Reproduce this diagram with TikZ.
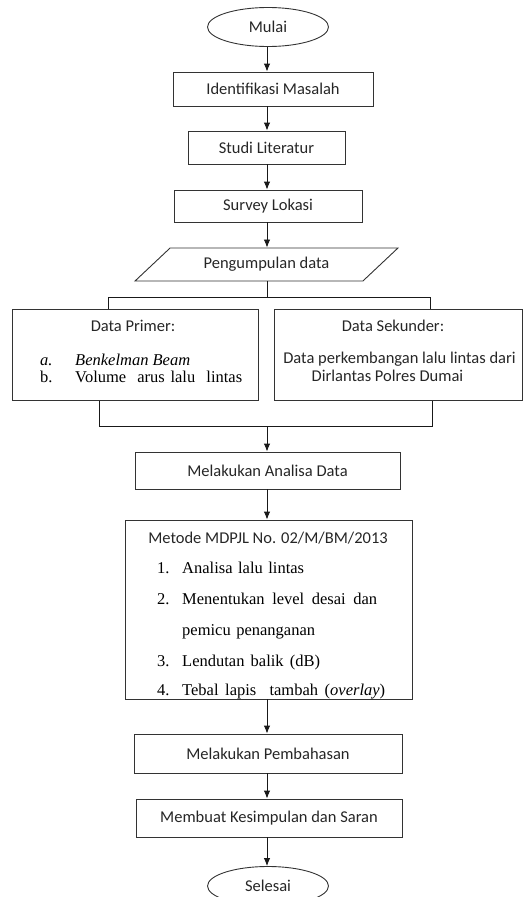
\documentclass[tikz,border=0pt]{standalone}
\usepackage{fontspec}
\setmainfont{Carlito}
\newfontfamily\serif{Liberation Serif}
\usetikzlibrary{arrows.meta}
\usetikzlibrary{shapes.geometric}
\usetikzlibrary{calc}

\tikzset{
	stepbox/.style={draw=black!80,line width=0.9pt,inner sep=0pt},
	termbox/.style={draw=black!80,line width=0.9pt,shape=ellipse,inner sep=0pt,minimum width=121pt,minimum height=39pt},
	txt/.style={text=black!85,inner sep=0pt},
	ser/.style={text=black,inner sep=0pt,anchor=base west,font=\serif\fontsize{16.5}{18}\selectfont},
	link/.style={draw=black!90,line width=0.9pt}
}

\begin{document}
\begin{tikzpicture}[>/.tip={Latex[length=8pt,width=6.5pt]},x=1pt,y=-1pt,font=\fontsize{16.5}{18}\selectfont]
	\useasboundingbox (0,0) rectangle (523,897);
	\coordinate (axis) at (267,0);

	\draw (268,27) node(mulai) [termbox,txt] {Mulai};
	\draw (273,89) node(ident) [stepbox,txt,minimum width=200pt,minimum height=34pt] {Identifikasi Masalah};
	\draw (266.5,147.5) node(studi) [stepbox,txt,minimum width=157pt,minimum height=33pt] {Studi Literatur};
	\draw (268,206) node(survey) [stepbox,txt,minimum width=188pt,minimum height=32pt] {Survey Lokasi};
	\draw (266.5,264.5) node(data) [stepbox,txt,shape=trapezium,trapezium left angle=32,trapezium right angle=148,trapezium stretches=true,minimum width=263pt,minimum height=33pt] {Pengumpulan data};

	\draw (135,355) node(primer) [stepbox,minimum width=246pt,minimum height=91pt] {};
	\node (primertitle) [txt] at (133,326) {Data Primer:};
	\node (pa) [ser] at (40,365) {\itshape a.};
	\node (patext) [ser] at (75,365) {\itshape Benkelman Beam};
	\node (pb) [ser] at (40,382) {b.};
	\node (pbtext) [ser] at (75,382) {\makebox[167pt][s]{Volume\ \ arus lalu\ \ lintas}};

	\draw (398,355) node(sekunder) [stepbox,minimum width=248pt,minimum height=91pt] {};
	\node (sekundertitle) [txt] at (393,326) {Data Sekunder:};
	\node (sekunderone) [txt] at (399.5,359) {Data perkembangan lalu lintas dari};
	\node (sekundertwo) [txt] at (387.5,376) {Dirlantas Polres Dumai};

	\draw (267.5,470.5) node(analisa) [stepbox,txt,minimum width=265pt,minimum height=37pt] {Melakukan Analisa Data};

	\draw (268.5,609.5) node(metode) [stepbox,minimum width=287pt,minimum height=179pt] {};
	\node (metodetitle) [txt] at (268,538) {Metode MDPJL No. 02/M/BM/2013};
	\node (m1) [ser] at (157,573) {1.};
	\node (m1text) [ser] at (182,573) {\makebox[121pt][s]{Analisa\ \ lalu\ \ lintas}};
	\node (m2) [ser] at (157,604) {2.};
	\node (m2text) [ser] at (182,604) {\makebox[195pt][s]{Menentukan level desai dan}};
	\node (m2more) [ser] at (182,635) {\makebox[100pt][s]{pemicu\ \ penanganan}};
	\node (m3) [ser] at (157,666) {3.};
	\node (m3text) [ser] at (182,666) {\makebox[138pt][s]{Lendutan\ \ balik\ \ (dB)}};
	\node (m4) [ser] at (157,695) {4.};
	\node (m4text) [ser] at (182,695) {\makebox[203pt][s]{Tebal lapis\ \ tambah (\textit{overlay})}};

	\draw (268,753.5) node(bahas) [stepbox,txt,minimum width=268pt,minimum height=39pt] {Melakukan Pembahasan};
	\draw (269,818) node(simpul) [stepbox,txt,minimum width=266pt,minimum height=38pt] {Membuat Kesimpulan dan Saran};
	\draw (268,886) node(selesai) [termbox,txt] {Selesai};

	\coordinate (splitL) at (108,297);
	\coordinate (splitR) at (430,297);
	\coordinate (joinL) at (99,426);
	\coordinate (joinR) at (432,426);

	\draw[link,->] (axis |- mulai.south) -- (axis |- ident.north);
	\draw[link,->] (axis |- ident.south) -- (axis |- studi.north);
	\draw[link,->] (axis |- studi.south) -- (axis |- survey.north);
	\draw[link,->] (axis |- survey.south) -- (axis |- data.north);
	\draw[link] (axis |- data.south) -- (axis |- splitL);
	\draw[link] (splitL |- primer.north) |- (splitR) -- (splitR |- sekunder.north);
	\draw[link] (joinL |- primer.south) |- (joinR) -- (joinR |- sekunder.south);
	\draw[link,->] (axis |- joinL) -- (axis |- analisa.north);
	\draw[link,->] (axis |- analisa.south) -- (axis |- metode.north);
	\draw[link,->] (axis |- metode.south) -- (axis |- bahas.north);
	\draw[link,->] (axis |- bahas.south) -- (axis |- simpul.north);
	\draw[link,->] (axis |- simpul.south) -- (axis |- selesai.north);
\end{tikzpicture}
\end{document}
